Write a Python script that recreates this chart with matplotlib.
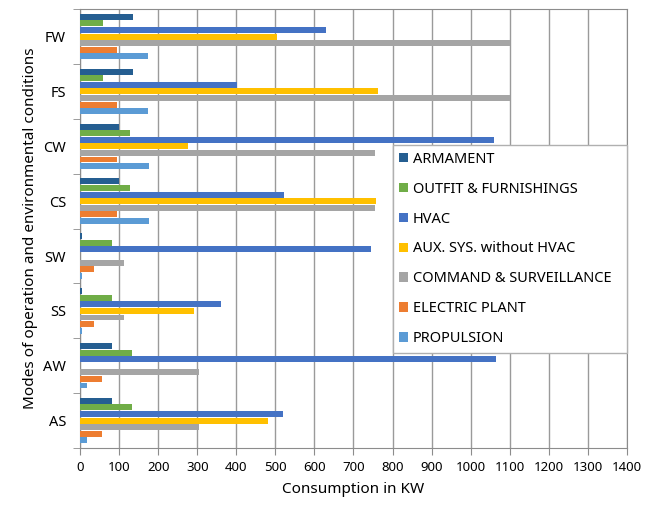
import numpy as np
import matplotlib.pyplot as plt

plt.rcParams['font.family'] = ['Noto Sans', 'DejaVu Sans']

# operating modes, bottom to top
modes = ["AS", "AW", "SS", "SW", "CS", "CW", "FS", "FW"]

series = ["ARMAMENT", "OUTFIT & FURNISHINGS", "HVAC", "AUX. SYS. without HVAC",
          "COMMAND & SURVEILLANCE", "ELECTRIC PLANT", "PROPULSION"]
colors = ["#255E91", "#70AD47", "#4472C4", "#FFC000", "#A5A5A5", "#ED7D31", "#5B9BD5"]

# consumption in KW per mode (same order as modes)
armament   = [81, 81, 5, 5, 99, 99, 135, 135]
outfit     = [132, 132, 81, 81, 129, 129, 58, 58]
hvac       = [520, 1065, 362, 745, 521, 1060, 402, 629]
aux        = [480, 0, 293, 0, 758, 277, 762, 504]
command    = [305, 305, 113, 113, 755, 755, 1100, 1100]
electric   = [55, 55, 35, 35, 95, 95, 95, 95]
propulsion = [18, 18, 4, 4, 176, 176, 173, 173]

values = [armament, outfit, hvac, aux, command, electric, propulsion]

fig = plt.figure(figsize=(6.57, 5.08), dpi=100)
ax = fig.add_axes([0.1218, 0.118, 0.8325, 0.864])

y = np.arange(len(modes))
pitch = 0.12
for i, (name, vals, col) in enumerate(zip(series, values, colors)):
    ax.barh(y + (3 - i) * pitch, vals, height=0.108, color=col, label=name, zorder=3)

ax.set_xlim(0, 1400)
ax.set_ylim(-0.5, len(modes) - 0.5)
ax.set_xticks(np.arange(0, 1401, 100))
ax.set_yticks(y)
ax.set_yticklabels(modes)
ax.set_yticks(np.arange(-0.5, len(modes), 1), minor=True)
ax.tick_params(axis='y', which='major', length=0, labelsize=10.5, pad=10)
ax.tick_params(axis='y', which='minor', length=5, color='#8c8c8c')
ax.tick_params(axis='x', length=5, color='#8c8c8c', labelsize=9.5, pad=4)

ax.grid(axis='x', color='#9a9a9a', linewidth=1, zorder=0)
for s in ax.spines.values():
    s.set_color('#8c8c8c')

ax.set_xlabel("Consumption in KW", fontsize=11, labelpad=6)
ax.set_ylabel("Modes of operation and environmental conditions", fontsize=11, labelpad=4)

leg = ax.legend(loc='upper left', bbox_to_anchor=(0.572, 0.69, 0.428, 0.0), mode='expand',
                fontsize=10.5, frameon=True, fancybox=False, edgecolor='#b0b0b0',
                framealpha=1, borderaxespad=0, handlelength=0.6, handleheight=0.6,
                handletextpad=0.3, labelspacing=1.02, borderpad=0.45)
leg.set_zorder(5)

fig.savefig("out.png", dpi=100)
